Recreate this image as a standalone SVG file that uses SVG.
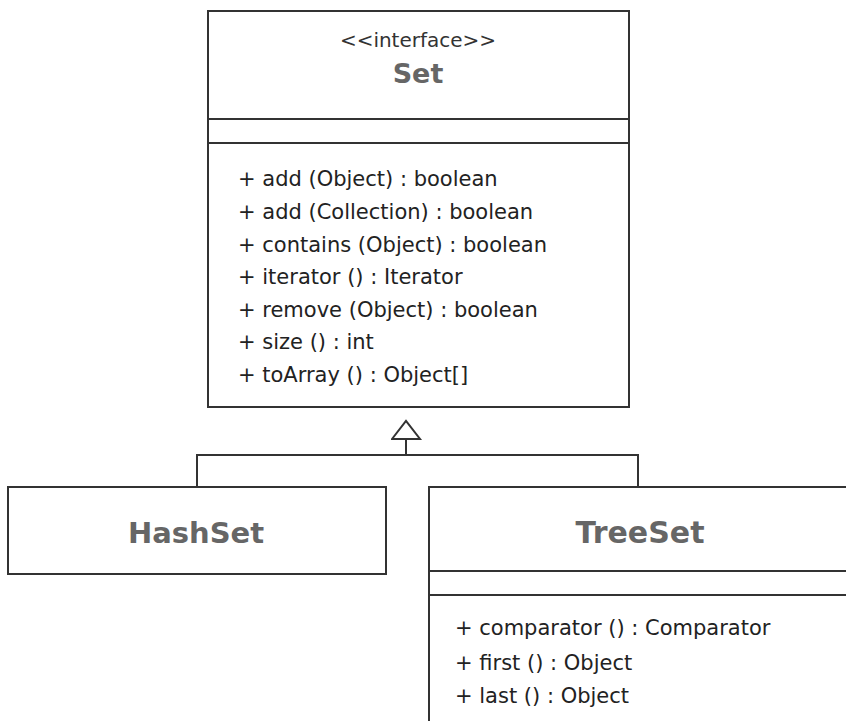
<svg xmlns="http://www.w3.org/2000/svg" width="846" height="721" viewBox="0 0 846 721">
  <style>
    .box { fill: #ffffff; stroke: #333333; stroke-width: 2; }
    .sep { stroke: #333333; stroke-width: 2; }
    .name { font-family: "DejaVu Sans", sans-serif; font-weight: bold; fill: #666666; text-anchor: middle; }
    .stereo { font-family: "DejaVu Sans", sans-serif; font-size: 20px; fill: #333333; text-anchor: middle; }
    .op { font-family: "DejaVu Sans", sans-serif; font-size: 21px; fill: #222222; }
    .edge { fill: none; stroke: #333333; stroke-width: 2; }
  </style>
  <defs>
    <!-- hollow triangle head for realization -->
    <marker id="realize" markerWidth="22" markerHeight="32" refX="19" refY="15" orient="auto" markerUnits="userSpaceOnUse">
      <path d="M1,1 L19,15 L1,29 Z" fill="#ffffff" stroke="#333333" stroke-width="2"/>
    </marker>
  </defs>
  <rect width="846" height="721" fill="#ffffff"/>

  <!-- connectors: both classes implement Set -->
  <g id="connectors">
    <path class="edge" d="M197,487 L197,455 L638,455 L638,487"/>
    <path class="edge" d="M406,455 L406,421" marker-end="url(#realize)"/>
  </g>

  <!-- interface Set -->
  <g id="set">
    <rect class="box" x="208" y="11" width="421" height="396"/>
    <line class="sep" x1="208" y1="119" x2="629" y2="119"/>
    <line class="sep" x1="208" y1="143" x2="629" y2="143"/>
    <text class="stereo" x="418" y="47">&lt;&lt;interface&gt;&gt;</text>
    <text class="name" x="418" y="83" font-size="27">Set</text>
    <text class="op" x="238" y="186">+ add (Object) : boolean</text>
    <text class="op" x="238" y="219">+ add (Collection) : boolean</text>
    <text class="op" x="238" y="252">+ contains (Object) : boolean</text>
    <text class="op" x="238" y="284">+ iterator () : Iterator</text>
    <text class="op" x="238" y="317">+ remove (Object) : boolean</text>
    <text class="op" x="238" y="349">+ size () : int</text>
    <text class="op" x="238" y="382">+ toArray () : Object[]</text>
  </g>

  <!-- class HashSet -->
  <g id="hashset">
    <rect class="box" x="8" y="487" width="378" height="87"/>
    <text class="name" x="196" y="543" font-size="29">HashSet</text>
  </g>

  <!-- class TreeSet -->
  <g id="treeset">
    <rect class="box" x="429" y="487" width="430" height="250"/>
    <line class="sep" x1="429" y1="571" x2="846" y2="571"/>
    <line class="sep" x1="429" y1="595" x2="846" y2="595"/>
    <text class="name" x="640" y="543" font-size="30">TreeSet</text>
    <text class="op" x="455" y="635">+ comparator () : Comparator</text>
    <text class="op" x="455" y="670">+ first () : Object</text>
    <text class="op" x="455" y="703">+ last () : Object</text>
  </g>
</svg>
